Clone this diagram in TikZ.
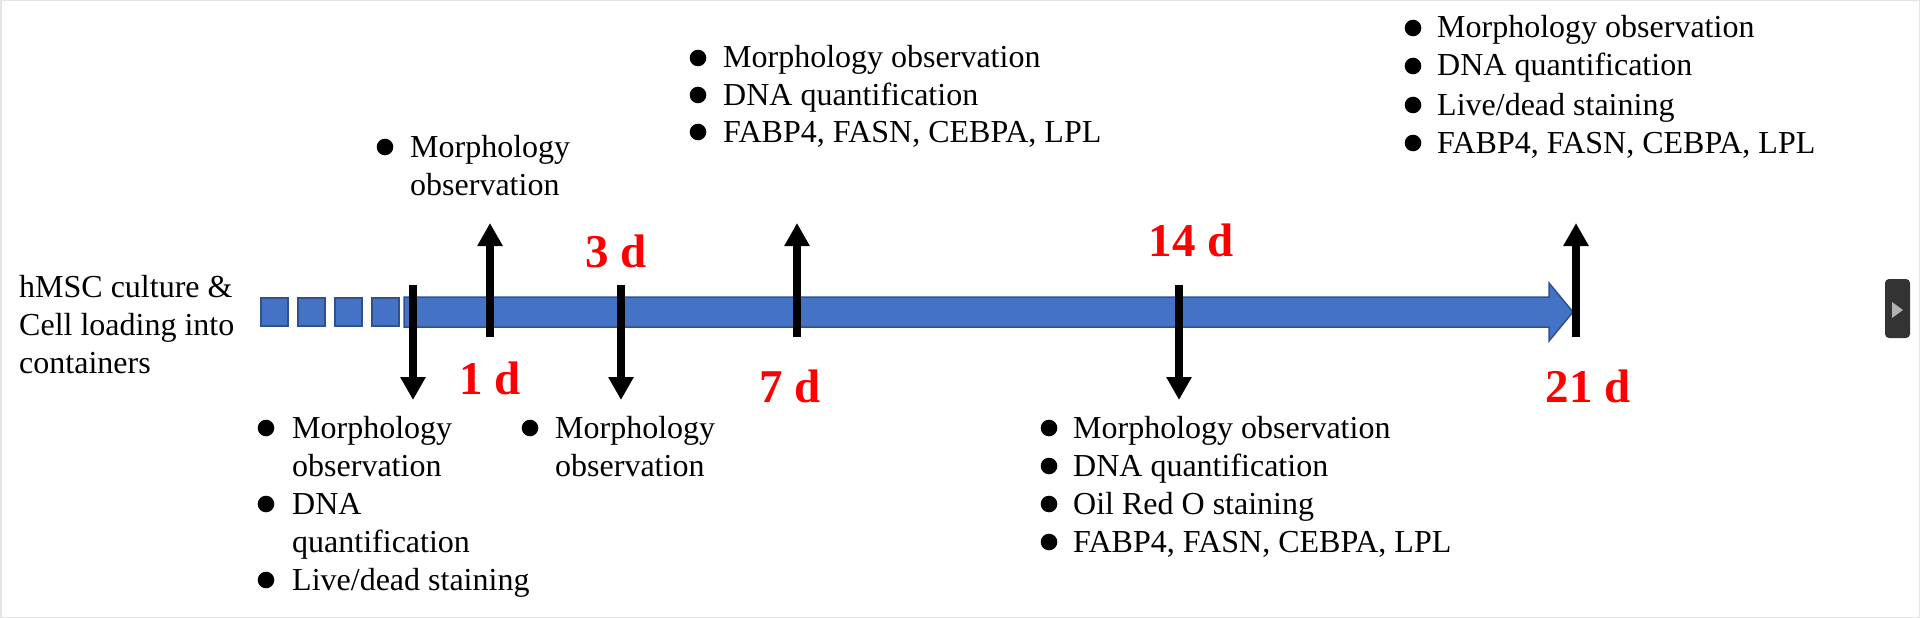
\documentclass[tikz,border=0pt]{standalone}
\usepackage{fontspec}
\setmainfont{Liberation Serif}
\usetikzlibrary{arrows.meta}
\definecolor{barblue}{HTML}{4472C4}
\definecolor{baredge}{HTML}{2F528F}
\definecolor{btn}{HTML}{333333}
\begin{document}
\begin{tikzpicture}[x=1pt,y=-1pt,
  txt/.style={anchor=base west,inner sep=0pt,font=\fontsize{32}{38}\selectfont},
  day/.style={anchor=base,inner sep=0pt,text=red,font=\fontsize{47}{50}\selectfont\bfseries},
  tick/.style={line width=8pt,-{Triangle[width=24pt,length=23pt]}},
  bar/.style={fill=barblue,draw=baredge,line width=1.5pt},
  dot/.style={fill=black}]
\useasboundingbox (0,0) rectangle (1920,618);
\fill[white] (0,0) rectangle (1920,618);
\draw[gray!20,line width=1.5pt] (0.75,0.75) rectangle (1919.25,617.25);

% timeline bar
\path[bar] (261,298) rectangle (288,326);
\path[bar] (298,298) rectangle (325,326);
\path[bar] (335,298) rectangle (362,326);
\path[bar] (372,298) rectangle (399,326);
\path[bar] (404,297) -- (1549,297) -- (1549,283) -- (1573,312) -- (1549,341) -- (1549,327) -- (404,327) -- cycle;

% arrows
\coordinate (d0s) at (413,285); \coordinate (d0e) at (413,400);
\coordinate (d3s) at (621,285); \coordinate (d3e) at (621,400);
\coordinate (d14s) at (1179,285); \coordinate (d14e) at (1179,400);
\coordinate (u1s) at (490,337); \coordinate (u1e) at (490,223);
\coordinate (u7s) at (797,337); \coordinate (u7e) at (797,223);
\coordinate (u21s) at (1576,337); \coordinate (u21e) at (1576,223);
\draw[tick] (d0s) -- (d0e);
\draw[tick] (d3s) -- (d3e);
\draw[tick] (d14s) -- (d14e);
\draw[tick] (u1s) -- (u1e);
\draw[tick] (u7s) -- (u7e);
\draw[tick] (u21s) -- (u21e);

% day labels
\node[day] (l1) at (490,394) {1 d};
\node[day] (l3) at (616,267) {3 d};
\node[day] (l7) at (790,402) {7 d};
\node[day] (l14) at (1191,256) {14 d};
\node[day] (l21) at (1588,402) {21 d};

% left label
\node[txt] (s1) at (19,297) {hMSC culture \&};
\node[txt] (s2) at (19,335) {Cell loading into};
\node[txt] (s3) at (19,373) {containers};

% 1 d (top)
\fill[dot] (385,147) circle (8.3pt);
\node[txt] (a1) at (410,157) {Morphology};
\node[txt] (a2) at (410,195) {observation};

% 7 d (top)
\fill[dot] (698,58) circle (8.3pt);
\fill[dot] (698,95) circle (8.3pt);
\fill[dot] (698,132) circle (8.3pt);
\node[txt] (b1) at (723,68) {Morphology observation};
\node[txt] (b2) at (723,105) {DNA quantification};
\node[txt] (b3) at (723,142) {FABP4, FASN, CEBPA, LPL};

% 21 d (top)
\fill[dot] (1413,28) circle (8.3pt);
\fill[dot] (1413,66) circle (8.3pt);
\fill[dot] (1413,105) circle (8.3pt);
\fill[dot] (1413,143) circle (8.3pt);
\node[txt] (c1) at (1437,38) {Morphology observation};
\node[txt] (c2) at (1437,76) {DNA quantification};
\node[txt] (c3) at (1437,115) {Live/dead staining};
\node[txt] (c4) at (1437,153) {FABP4, FASN, CEBPA, LPL};

% 0 d (bottom)
\fill[dot] (266,428) circle (8.3pt);
\fill[dot] (266,504) circle (8.3pt);
\fill[dot] (266,580) circle (8.3pt);
\node[txt] (e1) at (292,438) {Morphology};
\node[txt] (e2) at (292,476) {observation};
\node[txt] (e3) at (292,514) {DNA};
\node[txt] (e4) at (292,552) {quantification};
\node[txt] (e5) at (292,590) {Live/dead staining};

% 3 d (bottom)
\fill[dot] (530,428) circle (8.3pt);
\node[txt] (f1) at (555,438) {Morphology};
\node[txt] (f2) at (555,476) {observation};

% 14 d (bottom)
\fill[dot] (1049,428) circle (8.3pt);
\fill[dot] (1049,466) circle (8.3pt);
\fill[dot] (1049,504) circle (8.3pt);
\fill[dot] (1049,542) circle (8.3pt);
\node[txt] (g1) at (1073,438) {Morphology observation};
\node[txt] (g2) at (1073,476) {DNA quantification};
\node[txt] (g3) at (1073,514) {Oil Red O staining};
\node[txt] (g4) at (1073,552) {FABP4, FASN, CEBPA, LPL};

% viewer button
\fill[btn,rounded corners=4pt] (1885,279) rectangle (1910,338);
\fill[gray!60] (1892,302) -- (1903,310) -- (1892,318) -- cycle;
\end{tikzpicture}
\end{document}
